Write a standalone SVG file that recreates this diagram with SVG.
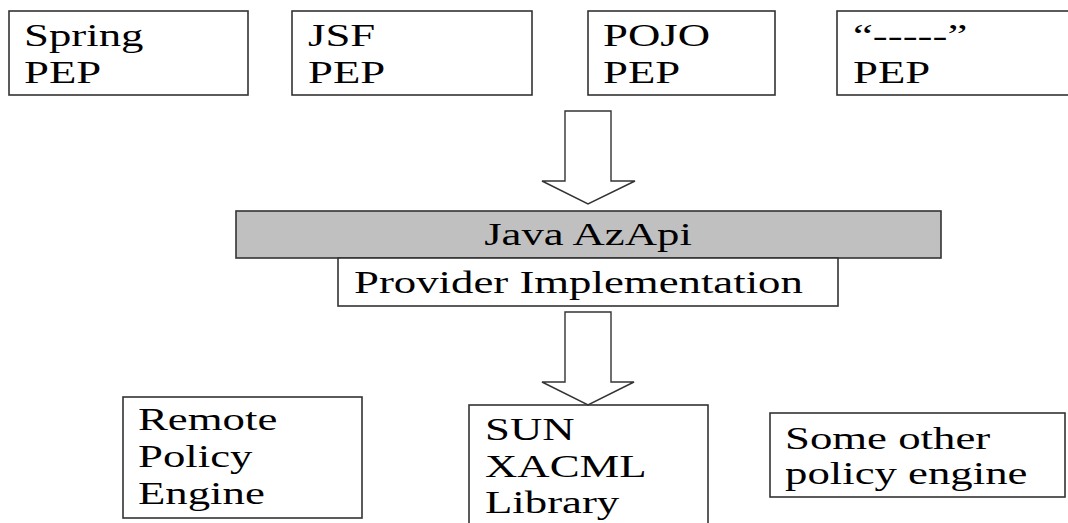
<svg xmlns="http://www.w3.org/2000/svg" width="1068" height="523" viewBox="0 0 1068 523">
  <style>
    .box { fill: #ffffff; stroke: #333333; stroke-width: 1.6; }
    .api { fill: #c0c0c0; stroke: #333333; stroke-width: 1.6; }
    .arrow { fill: #ffffff; stroke: #333333; stroke-width: 1.4; stroke-linejoin: miter; }
    text { font-family: 'Liberation Serif', 'Times New Roman', 'DejaVu Serif', serif; font-size: 32px; fill: #000000; }
  </style>
  <rect width="1068" height="523" fill="#ffffff"/>

  <!-- policy enforcement points -->
  <g id="spring-pep">
    <rect class="box" x="9" y="11" width="239" height="84"/>
    <text font-family="Liberation Serif, serif" transform="matrix(1.4 0 0 1 24 46)"><tspan x="0" y="0">Spring</tspan><tspan x="0" y="37">PEP</tspan></text>
  </g>
  <g id="jsf-pep">
    <rect class="box" x="292" y="11" width="240" height="84"/>
    <text font-family="Liberation Serif, serif" transform="matrix(1.4 0 0 1 308 46)"><tspan x="0" y="0">JSF</tspan><tspan x="0" y="37">PEP</tspan></text>
  </g>
  <g id="pojo-pep">
    <rect class="box" x="588" y="11" width="187" height="84"/>
    <text font-family="Liberation Serif, serif" transform="matrix(1.4 0 0 1 603 46)"><tspan x="0" y="0">POJO</tspan><tspan x="0" y="37">PEP</tspan></text>
  </g>
  <g id="other-pep">
    <rect class="box" x="837" y="11" width="240" height="84"/>
    <text font-family="Liberation Serif, serif" transform="matrix(1.4 0 0 1 853 46)"><tspan x="0" y="0">“-----”</tspan><tspan x="0" y="37">PEP</tspan></text>
  </g>

  <!-- API layer -->
  <g id="java-azapi">
    <rect class="api" x="236" y="211" width="705" height="47"/>
    <text font-family="Liberation Serif, serif" text-anchor="middle" transform="matrix(1.4 0 0 1 588 245)">Java AzApi</text>
  </g>
  <g id="provider-impl">
    <rect class="box" x="338" y="258" width="500" height="48"/>
    <text font-family="Liberation Serif, serif" transform="matrix(1.4 0 0 1 354 293)">Provider Implementation</text>
  </g>

  <!-- policy engines -->
  <g id="remote-engine">
    <rect class="box" x="123" y="397" width="239" height="121"/>
    <text font-family="Liberation Serif, serif" transform="matrix(1.4 0 0 1 138 430)"><tspan x="0" y="0">Remote</tspan><tspan x="0" y="37">Policy</tspan><tspan x="0" y="74">Engine</tspan></text>
  </g>
  <g id="sun-xacml">
    <rect class="box" x="469" y="405" width="239" height="130"/>
    <text font-family="Liberation Serif, serif" transform="matrix(1.4 0 0 1 485 440)"><tspan x="0" y="0">SUN</tspan><tspan x="0" y="37">XACML</tspan><tspan x="0" y="73">Library</tspan></text>
  </g>
  <g id="other-engine">
    <rect class="box" x="770" y="413" width="295" height="84"/>
    <text font-family="Liberation Serif, serif" transform="matrix(1.4 0 0 1 785 449)"><tspan x="0" y="0">Some other</tspan><tspan x="0" y="35">policy engine</tspan></text>
  </g>

  <!-- block arrows -->
  <g id="connectors">
    <polygon class="arrow" points="565,111 611,111 611,181 635,181 588,204 542,181 565,181"/>
    <polygon class="arrow" points="565,312 611,312 611,382 634,382 588,405 542,382 565,382"/>
  </g>
</svg>
